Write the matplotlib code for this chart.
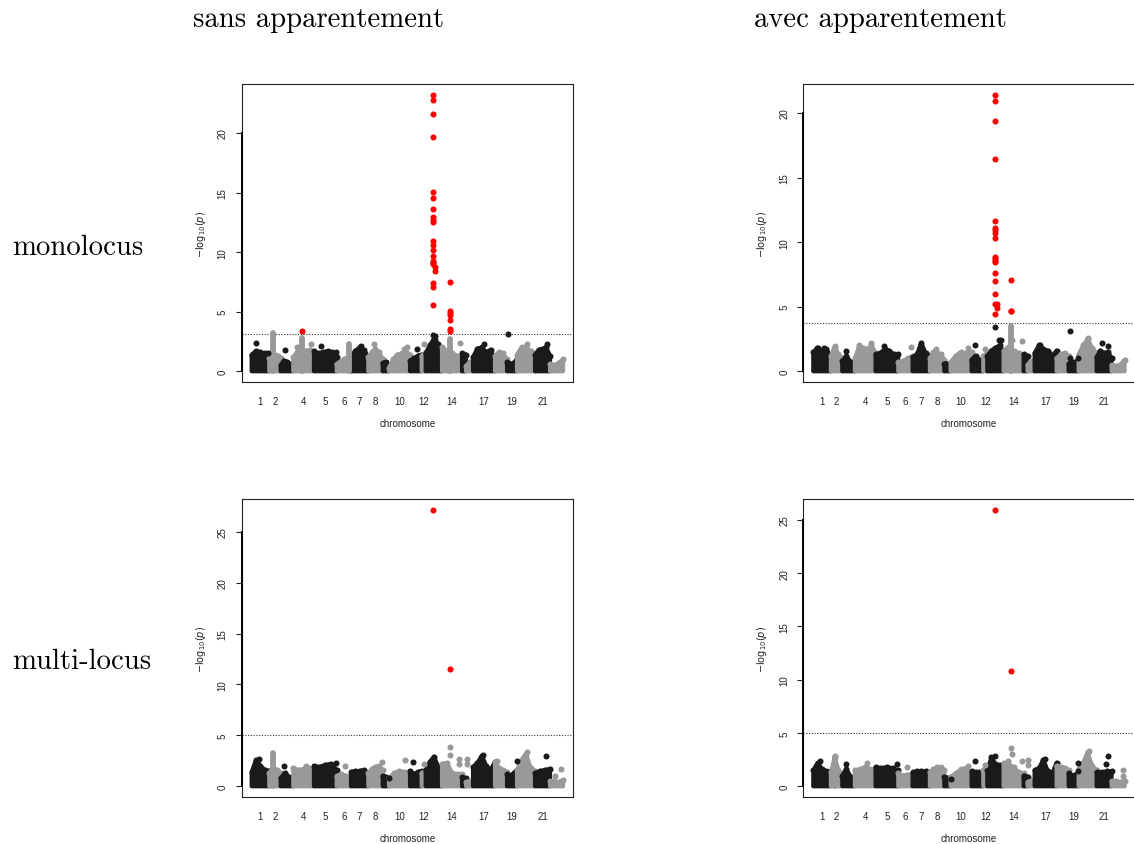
import numpy as np
import matplotlib
matplotlib.use('Agg')
import matplotlib.pyplot as plt

# chromosome sizes (arbitrary units)
chrom_len = [176, 114, 126, 207, 227, 143, 173, 144, 63, 210, 117, 40,
             163, 200, 40, 70, 220, 120, 100, 180, 150, 130]
chrom_labels = [1, 2, 4, 5, 6, 7, 8, 10, 12, 14, 17, 19, 21]

col_titles = ['sans apparentement', 'avec apparentement']
row_titles = ['monolocus', 'multi-locus']

# top of the dense point cloud for each chromosome (-log10 p)
env_tl = [[1.4, 1.7, 1.6, 1.5, 1.2], [1.1, 1.3, 1.4, 1.3, 1.1], [0.5, 0.9, 0.8, 0.6, 0.4],
          [1.2, 1.6, 1.8, 1.7, 1.8, 1.5], [1.7, 1.5, 1.6, 1.7, 1.6, 1.2], [0.6, 0.8, 1.0, 1.1, 1.0],
          [1.2, 1.7, 2.0, 1.8, 1.2], [1.2, 1.6, 1.9, 1.6, 1.0], [0.7, 0.8, 0.4],
          [0.3, 1.0, 1.4, 1.5, 1.6, 1.4], [0.9, 1.1, 1.3, 1.4], [1.3, 1.6],
          [1.5, 2.2, 2.7, 2.3, 1.6], [2.0, 1.7, 1.5, 1.3, 1.0], [1.5, 1.4], [0.4, 0.8, 0.6],
          [1.2, 1.9, 2.0, 1.6, 1.8, 1.0], [1.3, 1.6, 1.5, 1.0], [0.8, 0.6, 1.0],
          [1.4, 2.0, 2.0, 1.7, 1.5], [1.4, 1.8, 1.9, 2.0, 1.3], [0.6, 0.5, 0.7, 1.0]]
env_tr = [[1.5, 1.8, 1.6, 1.7, 1.1], [1.2, 1.9, 1.3, 1.0], [0.8, 1.2, 0.7, 0.4],
          [1.0, 1.9, 1.8, 1.7, 2.0, 1.4], [1.3, 1.4, 1.7, 1.6, 1.3, 1.3], [0.7, 0.8, 1.0, 1.2],
          [1.1, 1.3, 2.2, 1.4, 1.2], [1.0, 1.5, 1.4, 1.3, 0.9], [0.6, 0.6, 0.3],
          [0.7, 1.2, 1.5, 1.4, 1.5], [0.9, 1.2, 0.9, 0.7], [1.2, 1.4],
          [1.2, 1.6, 1.8, 2.0, 1.5], [1.6, 1.9, 1.6, 1.4, 1.2], [1.3, 1.2], [0.5, 0.8, 0.6],
          [1.4, 2.0, 1.7, 1.6, 1.2, 1.6], [1.0, 1.3, 1.4, 1.2], [0.6, 0.7, 0.8],
          [1.3, 2.0, 2.5, 1.8, 1.4], [1.1, 1.6, 1.4, 1.5, 1.0], [0.5, 0.4, 0.5, 0.9]]
env_bl = [[1.4, 2.6, 2.0, 1.6, 1.5], [1.3, 1.8, 1.6, 1.3], [0.8, 1.3, 0.9, 0.7],
          [1.8, 1.6, 1.7, 1.8, 1.6], [2.0, 1.9, 2.1, 2.2, 1.6], [1.0, 1.2, 1.0, 0.9],
          [1.4, 1.5, 1.5, 1.6, 1.3], [1.3, 1.7, 1.9, 2.0, 1.6], [1.0, 0.9, 0.5],
          [0.8, 1.3, 1.5, 1.4, 1.2], [1.5, 1.2, 1.4, 1.5], [1.3, 1.5],
          [1.6, 2.4, 2.9, 2.0, 1.8], [2.2, 2.3, 1.3, 1.2, 1.2], [0.9, 0.8], [0.4, 0.5, 0.5],
          [1.9, 2.3, 3.0, 2.0, 1.6, 2.4], [2.4, 1.8, 1.6, 1.4], [1.2, 1.0, 1.3, 1.6],
          [1.6, 2.6, 3.2, 1.8, 1.5], [1.3, 1.5, 1.6, 1.7], [0.5, 0.5, 0.4, 0.6]]
env_br = [[1.5, 2.2, 1.6, 1.4, 1.4], [1.3, 2.7, 1.5, 1.2], [1.0, 1.6, 0.9, 0.8],
          [1.5, 1.6, 1.8, 1.6, 1.6], [1.8, 1.7, 1.8, 1.7, 1.5], [1.2, 1.0, 1.1, 1.0],
          [1.3, 1.4, 1.4, 1.4, 1.3], [1.3, 1.6, 1.8, 1.8, 1.5], [0.9, 0.8, 0.4],
          [0.9, 1.2, 1.6, 1.7, 1.3], [1.4, 1.3, 1.3, 1.3], [1.5, 1.8],
          [1.5, 2.7, 2.1, 2.0, 1.6], [2.2, 2.0, 1.8, 1.3, 1.2], [1.0, 0.9], [0.4, 0.5, 0.5],
          [1.5, 1.7, 2.5, 1.4, 1.2, 2.2], [1.9, 1.8, 1.7, 1.5], [1.2, 1.0, 1.1, 1.3],
          [1.6, 2.2, 3.2, 1.9, 1.5], [1.3, 1.3, 1.4, 1.4], [0.5, 0.5, 0.4, 0.5]]

# narrow columns of stacked points: (chromosome, position in chromosome, top)
cols_tl = [(2, 0.35, 3.2), (4, 0.42, 2.8), (6, 0.85, 2.3), (14, 0.385, 2.7)]
cols_tr = [(14, 0.385, 3.5)]
cols_bl = [(2, 0.35, 3.3)]
cols_br = [(2, 0.35, 2.7)]

# isolated points above the cloud: (chromosome, position in chromosome, -log10 p)
dots_tl = [(1, 0.25, 2.35), (1, 0.95, 1.5), (3, 0.35, 1.75), (4, 0.85, 2.3), (4, 0.2, 2.0),
           (5, 0.3, 2.1), (5, 0.95, 1.65), (7, 0.55, 2.15), (8, 0.4, 2.3), (10, 0.7, 1.9),
           (10, 0.85, 2.05), (11, 0.6, 1.9), (12, 0.5, 2.25), (13, 0.45, 3.05), (13, 0.6, 2.95),
           (13, 0.55, 2.6), (14, 0.9, 2.35), (17, 0.5, 2.25), (19, 0.13, 3.1), (20, 0.55, 2.25),
           (21, 0.8, 2.25)]
dots_tr = [(1, 0.2, 1.8), (1, 0.6, 1.8), (2, 0.4, 1.95), (3, 0.3, 1.55), (4, 0.2, 2.05),
           (4, 0.8, 2.2), (5, 0.35, 1.95), (6, 0.9, 1.85), (8, 0.45, 1.7), (10, 0.85, 1.8),
           (11, 0.3, 2.05), (12, 0.5, 1.7), (13, 0.7, 2.4), (13, 0.85, 2.45), (13, 0.5, 3.42),
           (14, 0.4, 2.4), (14, 0.9, 2.35), (17, 0.25, 2.0), (19, 0.1, 3.1), (19, 0.1, 1.0),
           (19, 0.95, 1.05), (20, 0.5, 2.55), (21, 0.35, 2.2), (21, 0.75, 1.95)]
dots_bl = [(1, 0.4, 2.7), (3, 0.3, 2.0), (4, 0.6, 1.95), (5, 0.95, 2.3), (6, 0.6, 2.0),
           (8, 0.95, 2.35), (9, 1.0, 0.85), (10, 0.75, 2.6), (11, 0.25, 2.4), (12, 0.6, 2.15),
           (14, 0.38, 3.85), (14, 0.4, 3.05), (14, 0.85, 2.7), (14, 0.85, 2.2), (16, 0.1, 2.7),
           (16, 0.1, 2.2), (17, 0.45, 3.1), (18, 0.15, 2.45), (19, 0.95, 2.45), (20, 0.55, 3.35),
           (21, 0.75, 2.95), (22, 0.85, 1.65), (22, 0.35, 1.05)]
dots_br = [(1, 0.4, 2.35), (2, 0.35, 2.85), (3, 0.3, 2.1), (4, 0.6, 2.15), (5, 0.95, 2.05),
           (6, 0.6, 1.85), (9, 1.0, 0.7), (10, 0.85, 1.9), (11, 0.3, 2.35), (12, 0.5, 1.95),
           (13, 0.45, 2.8), (14, 0.38, 3.55), (14, 0.4, 3.0), (14, 0.2, 2.35), (14, 0.9, 2.35),
           (16, 0.1, 2.45), (16, 0.1, 2.0), (17, 0.45, 2.55), (19, 0.95, 2.15), (19, 0.95, 1.4),
           (20, 0.55, 3.35), (21, 0.75, 2.8), (21, 0.6, 2.1), (22, 0.85, 1.5), (22, 0.85, 1.0)]

# significant markers (red)
red_tl = [(13, 0.47, v) for v in [23.17, 22.75, 21.57, 19.69, 15.03, 14.53, 13.63, 12.93, 12.73,
                                  12.51, 10.91, 10.6, 10.15, 9.71, 9.26, 9.2, 9.09, 8.98, 7.41,
                                  7.04, 5.58]] + \
         [(13, 0.57, 8.78), (13, 0.57, 8.39)] + \
         [(14, 0.385, v) for v in [7.46, 5.02, 4.88, 4.71, 4.32, 3.53, 3.42]] + [(4, 0.42, 3.34)]
red_tr = [(13, 0.47, v) for v in [21.37, 20.96, 19.35, 16.43, 11.64, 11.13, 10.94, 10.71, 10.3,
                                  8.82, 8.67, 8.54, 8.43, 7.63, 6.96, 5.98, 5.23, 4.42]] + \
         [(13, 0.57, 5.23), (13, 0.57, 4.92)] + \
         [(14, 0.385, v) for v in [7.06, 4.68, 4.63]]
red_bl = [(13, 0.47, 27.1), (14, 0.385, 11.5)]
red_br = [(13, 0.47, 25.9), (14, 0.385, 10.8)]

thresholds = [3.17, 3.70, 5.0, 5.0]

BLACK = '#1a1a1a'
GREY = '#999999'
RED = '#ff0000'
SANS = 'Liberation Sans'

starts = np.concatenate([[0], np.cumsum(chrom_len)[:-1]])
total = float(np.sum(chrom_len))


def xpos(ch, f):
    return starts[ch - 1] + f * chrom_len[ch - 1]


def chrom_col(ch):
    return BLACK if ch % 2 == 1 else GREY


def manhattan(ax, env, cols, dots, reds, thr):
    for i, e in enumerate(env):
        ch = i + 1
        c = chrom_col(ch)
        xs = np.linspace(starts[i], starts[i] + chrom_len[i], len(e))
        px = np.concatenate([[xs[0]], xs, [xs[-1]]])
        py = np.concatenate([[0], e, [0]])
        ax.fill(px, py, facecolor=c, edgecolor=c, lw=3, joinstyle='round', zorder=2)
        # bumps of the top points of the cloud
        ax.scatter(xs, e, s=19, color=c, lw=0, zorder=2)
    for ch, f, top in cols:
        x = xpos(ch, f)
        ax.plot([x, x], [0, top], color=chrom_col(ch), lw=4.2, solid_capstyle='round', zorder=2)
    for ch, f, v in dots:
        ax.scatter(xpos(ch, f), v, s=19, color=chrom_col(ch), lw=0, zorder=3)
    ax.scatter([xpos(c, f) for c, f, v in reds], [v for c, f, v in reds],
               s=19, color=RED, lw=0, zorder=4)

    ymax = max(v for c, f, v in reds)
    ax.set_ylim(-0.04 * ymax, 1.04 * ymax)
    pad = 0.032 * total
    ax.set_xlim(-pad, total + pad)
    ax.axhline(thr, color='#333333', lw=0.8, ls=(0, (1, 1.5)), zorder=1)

    top_tick = 5 * int(ymax // 5)
    yt = np.arange(0, top_tick + 1, 5)
    ax.set_yticks(yt)
    ax.set_yticklabels([str(t) for t in yt], rotation=90, va='center', fontsize=7, family=SANS)
    ax.tick_params(axis='y', length=4, width=0.8, pad=6, colors='#222222')
    ax.plot([-pad, -pad], [0, top_tick], color='black', lw=1.4, clip_on=False, zorder=5)

    centers = [xpos(c, 0.5) for c in chrom_labels]
    ax.set_xticks(centers)
    ax.set_xticklabels([str(c) for c in chrom_labels], fontsize=7, family=SANS)
    ax.tick_params(axis='x', length=0, pad=10, colors='#222222')
    for s in ax.spines.values():
        s.set_linewidth(0.8)
        s.set_color('#222222')
    ax.text(0.5, -0.137, 'chromosome', transform=ax.transAxes, ha='center', va='center',
            fontsize=7, family=SANS, color='#222222')
    ax.text(-0.124, 0.5, r'$-\mathrm{log}_{10}(p)$', transform=ax.transAxes, rotation=90,
            ha='center', va='center', fontsize=7, color='#222222')


fig = plt.figure(figsize=(11.34, 8.45), dpi=100)
W, H = 1134.0, 845.0
lefts = [241.7, 803.3]
bottoms = [383.3, 798.3]
aw, ah = 331.3, 298.0

panels = [(env_tl, cols_tl, dots_tl, red_tl), (env_tr, cols_tr, dots_tr, red_tr),
          (env_bl, cols_bl, dots_bl, red_bl), (env_br, cols_br, dots_br, red_br)]

for k, (env, cols, dots, reds) in enumerate(panels):
    r, c = divmod(k, 2)
    ax = fig.add_axes([lefts[c] / W, 1 - bottoms[r] / H, aw / W, ah / H])
    manhattan(ax, env, cols, dots, reds, thresholds[k])

fig.text(319 / W, 1 - 27 / H, col_titles[0], family='cmr10', fontsize=20.7, ha='center', va='baseline')
fig.text(880 / W, 1 - 27 / H, col_titles[1], family='cmr10', fontsize=20.7, ha='center', va='baseline')
fig.text(12 / W, 1 - 255 / H, row_titles[0], family='cmr10', fontsize=20.7, ha='left', va='baseline')
fig.text(12 / W, 1 - 669 / H, row_titles[1], family='cmr10', fontsize=20.7, ha='left', va='baseline')

fig.savefig('out.png', dpi=100)
